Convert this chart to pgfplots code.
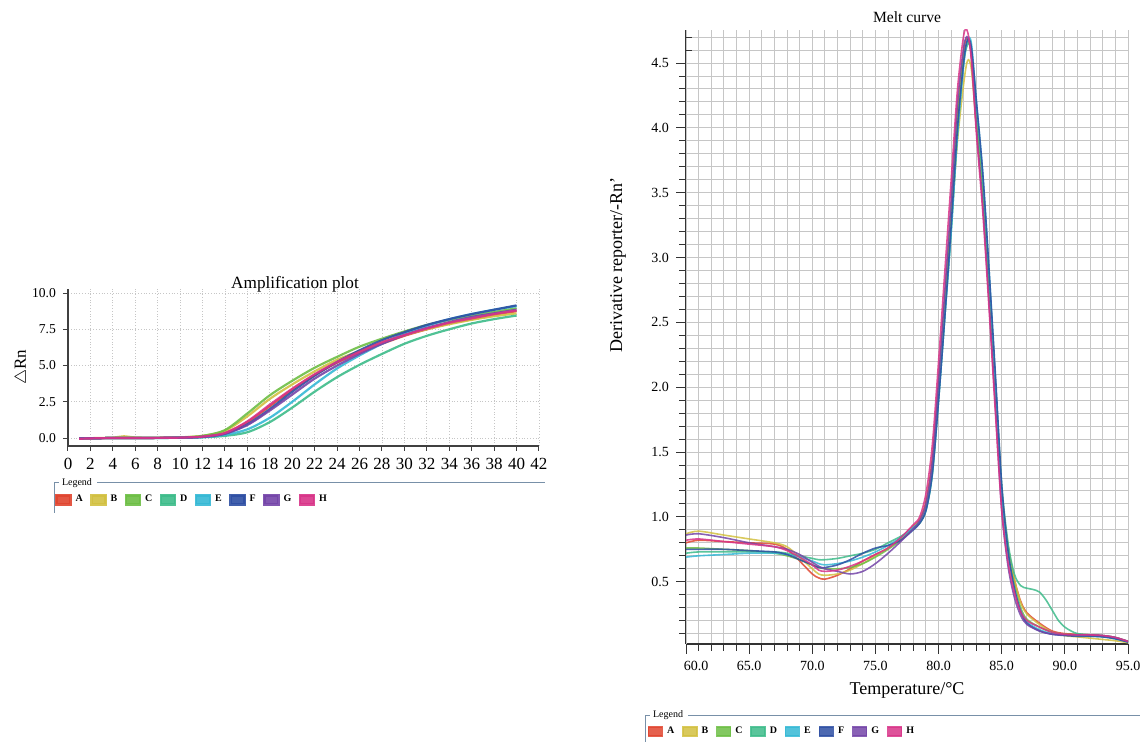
\documentclass[border=0pt]{standalone}
\usepackage{fontspec}
\setmainfont{Liberation Serif}
\usepackage{pgfplots}
\pgfplotsset{compat=1.18}

\definecolor{cA}{HTML}{E0452F}
\definecolor{cB}{HTML}{D2C040}
\definecolor{cC}{HTML}{6DBE45}
\definecolor{cD}{HTML}{3DBB8A}
\definecolor{cE}{HTML}{35B8D5}
\definecolor{cF}{HTML}{2E4FA3}
\definecolor{cG}{HTML}{7445A8}
\definecolor{cH}{HTML}{D83488}
\definecolor{lgline}{HTML}{7890A8}

\pgfplotsset{
  every axis title shift=0pt,
  sqlegend/.style={
    legend columns=8,
    legend image code/.code={\fill[##1] (0pt,-2.25pt) rectangle (7pt,2.25pt);},
    legend style={draw=none, fill=none, inner sep=0pt,
      font=\fontsize{5}{6}\selectfont\bfseries,
      nodes={inner sep=0pt},
      /tikz/every odd column/.append style={column sep=2pt},
      /tikz/every even column/.append style={column sep=3.8pt}},
  },
  onedec/.style={/pgf/number format/fixed, /pgf/number format/fixed zerofill,
    /pgf/number format/precision=1},
}

\begin{document}
\begin{tikzpicture}[x=1pt,y=1pt]
\path[use as bounding box] (0,0) rectangle (573,371);

% ---------------- amplification plot ----------------
\begin{axis}[
  at={(34pt,148pt)}, anchor=south west, scale only axis,
  width=235.5pt, height=78.5pt,
  xmin=0, xmax=42, ymin=-0.55, ymax=10.28,
  xtick={0,2,...,42}, ytick={0,2.5,5,7.5,10},
  axis lines=left, axis line style={-, draw=black!75, line width=0.6pt},
  tick align=outside, major tick length=2.5pt,
  tick style={black!75, line width=0.5pt},
  grid=major, major grid style={densely dotted, gray!45, line width=0.4pt},
  /pgf/number format/assume math mode=true,
  xticklabel style={font=\fontsize{8.5}{9}\selectfont},
  yticklabel style={onedec, font=\fontsize{6.8}{7}\selectfont},
  title={Amplification plot},
  title style={at={(rel axis cs:0.482,1.03)}, anchor=center, font=\fontsize{8.6}{9}\selectfont},
  ylabel={$\triangle$Rn},
  ylabel style={at={(rel axis cs:-0.098,0.5)}, anchor=center, font=\fontsize{8.5}{9}\selectfont},
  sqlegend,
  legend style={at={(rel axis cs:-0.0276,-0.344)}, anchor=west},
  every axis plot/.append style={line width=1.1pt, smooth, opacity=0.9},
]
\addplot[cA] coordinates {(1,-0.03)(2,-0.02)(4,0.0)(6,0.0)(8,0.01)(10,0.03)(12,0.1)(14,0.35)(16,1.1)(18,2.2)(20,3.35)(22,4.35)(24,5.2)(26,5.9)(28,6.5)(30,7.05)(32,7.5)(34,7.9)(36,8.2)(38,8.5)(40,8.75)};
\addplot[cB] coordinates {(1,-0.02)(2,-0.01)(4,0.03)(5,0.12)(6,0.04)(8,0.02)(10,0.05)(12,0.15)(14,0.5)(16,1.5)(18,2.7)(20,3.7)(22,4.6)(24,5.4)(26,6.0)(28,6.6)(30,7.1)(32,7.5)(34,7.85)(36,8.15)(38,8.4)(40,8.6)};
\addplot[cC] coordinates {(1,-0.03)(2,-0.02)(4,0.0)(6,0.0)(8,0.01)(10,0.04)(12,0.15)(14,0.55)(16,1.7)(18,2.95)(20,3.95)(22,4.85)(24,5.6)(26,6.3)(28,6.85)(30,7.35)(32,7.8)(34,8.15)(36,8.45)(38,8.7)(40,8.95)};
\addplot[cD] coordinates {(1,-0.03)(2,-0.02)(4,0.0)(6,0.0)(8,0.0)(10,0.02)(12,0.05)(14,0.15)(16,0.4)(18,1.1)(20,2.1)(22,3.2)(24,4.2)(26,5.05)(28,5.8)(30,6.5)(32,7.05)(34,7.5)(36,7.9)(38,8.2)(40,8.45)};
\addplot[cE] coordinates {(1,-0.03)(2,-0.02)(4,0.0)(6,0.0)(8,0.0)(10,0.02)(12,0.06)(14,0.22)(16,0.6)(18,1.4)(20,2.5)(22,3.7)(24,4.8)(26,5.7)(28,6.5)(30,7.2)(32,7.75)(34,8.2)(36,8.55)(38,8.85)(40,9.1)};
\addplot[cF] coordinates {(1,-0.03)(2,-0.02)(4,0.0)(6,0.0)(8,0.01)(10,0.02)(12,0.08)(14,0.3)(16,0.95)(18,2.0)(20,3.2)(22,4.3)(24,5.25)(26,6.05)(28,6.75)(30,7.3)(32,7.8)(34,8.2)(36,8.55)(38,8.85)(40,9.15)};
\addplot[cG] coordinates {(1,-0.03)(2,-0.02)(4,0.0)(6,0.0)(8,0.01)(10,0.02)(12,0.08)(14,0.3)(16,0.9)(18,1.9)(20,3.0)(22,4.1)(24,5.0)(26,5.8)(28,6.5)(30,7.1)(32,7.6)(34,8.0)(36,8.35)(38,8.6)(40,8.85)};
\addplot[cH] coordinates {(1,-0.05)(2,-0.03)(4,0.0)(6,0.0)(8,0.01)(10,0.03)(12,0.1)(14,0.35)(16,1.15)(18,2.3)(20,3.4)(22,4.4)(24,5.25)(26,5.95)(28,6.6)(30,7.1)(32,7.55)(34,7.95)(36,8.25)(38,8.55)(40,8.8)};
\legend{A,B,C,D,E,F,G,H}
\end{axis}

% ---------------- melt curve ----------------
\begin{axis}[
  at={(343pt,49pt)}, anchor=south west, scale only axis,
  width=221pt, height=307pt,
  xmin=60, xmax=95, ymin=0.02, ymax=4.755,
  xtick={65,70,...,95}, minor xtick={61,...,94},
  extra x ticks={60}, extra x tick style={xticklabel style={xshift=5pt}},
  ytick={0.5,1,...,4.5}, minor ytick={0.1,0.2,...,4.4},
  extra y ticks={4.6,4.7}, extra y tick labels={},
  extra y tick style={tick align=inside, major tick length=3pt},
  axis lines=left, axis line style={-, draw=black!80, line width=0.7pt},
  tick align=outside, major tick length=5pt, minor tick length=3.5pt,
  tick style={black!80, line width=0.5pt},
  grid=both,
  major grid style={gray!45, line width=0.5pt},
  minor grid style={gray!45, line width=0.5pt},
  /pgf/number format/assume math mode=true,
  tick label style={font=\fontsize{7}{8}\selectfont},
  xticklabel style={onedec}, yticklabel style={onedec},
  title={Melt curve},
  title style={at={(rel axis cs:0.5,1.021)}, anchor=center, font=\fontsize{7.8}{9}\selectfont},
  xlabel={Temperature/\textdegree C},
  xlabel style={at={(rel axis cs:0.5,-0.075)}, anchor=center, font=\fontsize{9}{10}\selectfont},
  ylabel={Derivative reporter/-Rn'},
  ylabel style={at={(rel axis cs:-0.154,0.617)}, anchor=center, font=\fontsize{9}{10}\selectfont},
  sqlegend,
  legend style={at={(rel axis cs:-0.088,-0.143)}, anchor=west},
  every axis plot/.append style={line width=0.8pt, smooth, opacity=0.85},
]
\addplot[cA] coordinates {(60,0.80)(61,0.82)(63,0.81)(65,0.80)(67,0.79)(68,0.75)(69,0.66)(70,0.56)(70.5,0.53)(71,0.52)(72,0.55)(73,0.60)(74,0.66)(75,0.71)(76,0.76)(77,0.84)(78,0.93)
 (78.5,0.98)(79,1.12)(79.5,1.45)(80,2.05)(80.5,2.7)(81,3.35)(81.5,4.1)(82,4.6)(82.3,4.69)(82.6,4.55)(83,4.0)(83.5,3.45)(84,2.7)(84.5,1.9)(85,1.15)(85.5,0.76)(86,0.52)(86.5,0.35)(87,0.26)(88,0.18)(89,0.12)(90,0.10)(91,0.095)(92,0.09)(93,0.085)(94,0.07)(95,0.04)};
\addplot[cB] coordinates {(60,0.87)(61,0.89)(63,0.86)(65,0.83)(67,0.80)(68,0.77)(69,0.69)(70,0.60)(70.5,0.56)(71,0.55)(72,0.56)(73,0.59)(74,0.64)(75,0.70)(76,0.76)(77,0.83)(78,0.92)
 (78.5,0.97)(79,1.08)(79.5,1.38)(80,1.95)(80.5,2.6)(81,3.25)(81.5,3.9)(82,4.35)(82.3,4.52)(82.6,4.45)(83,4.0)(83.5,3.45)(84,2.75)(84.5,1.95)(85,1.2)(85.5,0.78)(86,0.52)(86.5,0.34)(87,0.25)(88,0.17)(89,0.11)(90,0.085)(91,0.075)(92,0.065)(93,0.055)(94,0.045)(95,0.03)};
\addplot[cC] coordinates {(60,0.76)(61,0.76)(63,0.75)(65,0.74)(67,0.72)(68,0.70)(69,0.67)(70,0.63)(70.5,0.61)(71,0.60)(72,0.60)(73,0.61)(74,0.64)(75,0.69)(76,0.75)(77,0.82)(78,0.91)
 (78.5,0.96)(79,1.06)(79.5,1.35)(80,1.95)(80.5,2.6)(81,3.3)(81.5,4.05)(82,4.55)(82.3,4.66)(82.6,4.58)(83,4.1)(83.5,3.55)(84,2.8)(84.5,2.0)(85,1.15)(85.5,0.72)(86,0.48)(86.5,0.30)(87,0.21)(88,0.15)(89,0.11)(90,0.095)(91,0.09)(92,0.085)(93,0.08)(94,0.065)(95,0.04)};
\addplot[cD] coordinates {(60,0.72)(61,0.73)(63,0.73)(65,0.73)(67,0.73)(68,0.72)(69,0.70)(70,0.68)(70.5,0.67)(71,0.67)(72,0.68)(73,0.70)(74,0.72)(75,0.75)(76,0.80)(77,0.85)(78,0.91)
 (78.5,0.95)(79,1.05)(79.5,1.32)(80,1.9)(80.5,2.55)(81,3.2)(81.5,3.95)(82,4.5)(82.3,4.64)(82.6,4.6)(83,4.15)(83.5,3.6)(84,2.85)(84.5,2.05)(85,1.25)(85.5,0.8)(86,0.56)(86.5,0.47)(87,0.45)(87.5,0.44)(88,0.42)(88.5,0.36)(89,0.28)(89.5,0.2)(90,0.15)(90.5,0.12)(91,0.10)(92,0.09)(93,0.085)(94,0.07)(95,0.04)};
\addplot[cE] coordinates {(60,0.69)(61,0.70)(63,0.71)(65,0.72)(67,0.72)(68,0.71)(69,0.69)(70,0.66)(70.5,0.64)(71,0.63)(72,0.64)(73,0.66)(74,0.69)(75,0.73)(76,0.78)(77,0.84)(78,0.92)
 (78.5,0.96)(79,1.05)(79.5,1.33)(80,1.9)(80.5,2.55)(81,3.2)(81.5,3.95)(82,4.5)(82.3,4.68)(82.6,4.65)(83,4.2)(83.5,3.65)(84,2.9)(84.5,2.05)(85,1.2)(85.5,0.72)(86,0.45)(86.5,0.28)(87,0.19)(88,0.13)(89,0.10)(90,0.09)(91,0.085)(92,0.08)(93,0.075)(94,0.06)(95,0.035)};
\addplot[cF] coordinates {(60,0.75)(61,0.75)(63,0.75)(65,0.74)(67,0.73)(68,0.71)(69,0.67)(70,0.63)(70.5,0.61)(71,0.61)(72,0.63)(73,0.67)(74,0.72)(75,0.76)(76,0.78)(77,0.82)(78,0.90)
 (78.5,0.95)(79,1.05)(79.5,1.33)(80,1.9)(80.5,2.55)(81,3.25)(81.5,4.0)(82,4.52)(82.3,4.68)(82.6,4.62)(83,4.2)(83.5,3.65)(84,2.9)(84.5,2.1)(85,1.25)(85.5,0.74)(86,0.45)(86.5,0.27)(87,0.18)(88,0.12)(89,0.095)(90,0.085)(91,0.08)(92,0.08)(93,0.075)(94,0.06)(95,0.035)};
\addplot[cG] coordinates {(60,0.86)(61,0.87)(63,0.84)(65,0.80)(67,0.77)(68,0.75)(69,0.71)(70,0.65)(70.5,0.62)(71,0.60)(72,0.58)(73,0.56)(74,0.58)(75,0.64)(76,0.72)(77,0.81)(78,0.91)
 (78.5,0.97)(79,1.1)(79.5,1.42)(80,2.05)(80.5,2.75)(81,3.45)(81.5,4.2)(82,4.63)(82.3,4.70)(82.6,4.55)(83,4.0)(83.5,3.4)(84,2.65)(84.5,1.85)(85,1.05)(85.5,0.62)(86,0.38)(86.5,0.24)(87,0.17)(88,0.12)(89,0.095)(90,0.09)(91,0.09)(92,0.09)(93,0.085)(94,0.07)(95,0.04)};
\addplot[cH] coordinates {(60,0.82)(61,0.83)(63,0.81)(65,0.79)(67,0.77)(68,0.74)(69,0.69)(70,0.63)(70.5,0.59)(71,0.58)(72,0.59)(73,0.62)(74,0.66)(75,0.71)(76,0.76)(77,0.84)(78,0.94)
 (78.5,1.0)(79,1.18)(79.5,1.55)(80,2.2)(80.5,2.9)(81,3.6)(81.5,4.3)(82,4.72)(82.3,4.74)(82.6,4.52)(83,3.95)(83.5,3.35)(84,2.6)(84.5,1.8)(85,1.05)(85.5,0.65)(86,0.42)(86.5,0.27)(87,0.2)(88,0.15)(89,0.11)(90,0.095)(91,0.09)(92,0.09)(93,0.085)(94,0.07)(95,0.04)};
\legend{A,B,C,D,E,F,G,H}
\end{axis}

% legend frames
\node[font=\fontsize{5}{6}\selectfont] at (38.5,129.5) {Legend};
\draw[lgline, line width=0.5pt] (27,114.5) -- (27,129.5) -- (29.5,129.5);
\draw[lgline, line width=0.5pt] (48.5,129.5) -- (272.5,129.5);
\node[font=\fontsize{5}{6}\selectfont] at (334,13.5) {Legend};
\draw[lgline, line width=0.5pt] (322.5,0) -- (322.5,13) -- (325,13);
\draw[lgline, line width=0.5pt] (344,13) -- (570,13);
\end{tikzpicture}
\end{document}
